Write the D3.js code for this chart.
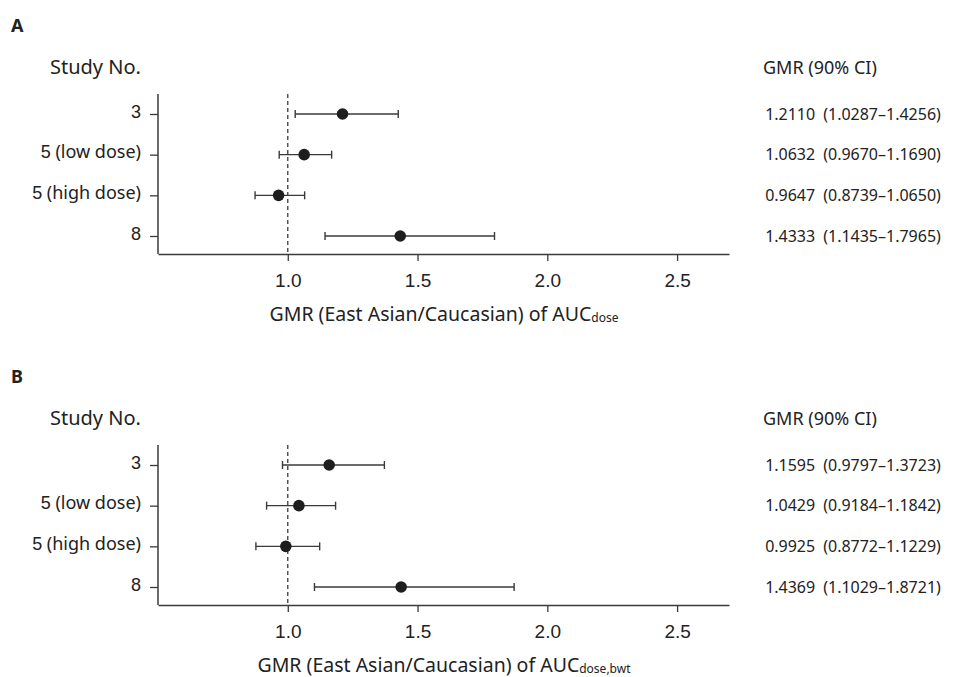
<!DOCTYPE html>
<html><head><meta charset="utf-8">
<script src="https://cdn.jsdelivr.net/npm/d3@7"></script>
<style>body{margin:0;background:#fff}svg{display:block}</style>
</head><body>
<svg id="chart" width="956" height="677"></svg>
<script>
// ---- data ----
const studyNums = ["3", "5", "5", "8"];
const studyNotes = ["", " (low dose)", " (high dose)", ""];
const categories = ["3", "5 (low dose)", "5 (high dose)", "8"];
const xTicks = [1.0, 1.5, 2.0, 2.5];
const refLine = 1.0;

const gmrA = [1.2110, 1.0632, 0.9647, 1.4333];
const lowA = [1.0287, 0.9670, 0.8739, 1.1435];
const highA = [1.4256, 1.1690, 1.0650, 1.7965];

const gmrB = [1.1595, 1.0429, 0.9925, 1.4369];
const lowB = [0.9797, 0.9184, 0.8772, 1.1029];
const highB = [1.3723, 1.1842, 1.1229, 1.8721];

const panelLetters = ["A", "B"];
const axisSubs = ["dose", "dose,bwt"];

const svg = d3.select("#chart");
const sansFont = "'Noto Sans', 'Open Sans', sans-serif";
const numFont = "'Liberation Sans', Arial, sans-serif";
const ink = "#222";
const lineCol = "#3a3a3a";

const x = d3.scaleLinear().domain([0.5, 2.7]).range([158, 729]);

function drawPanel(offY, letter, gmr, low, high, sub) {
  const g = svg.append("g").attr("transform", `translate(0,${offY})`);
  const y = d3.scalePoint().domain(categories).range([114, 236]);
  const axTop = 94, axBottom = 254;

  g.append("text").attr("x", 11).attr("y", 32).text(letter)
    .attr("font-family", sansFont).attr("font-weight", "bold").attr("font-size", 18).attr("fill", ink);
  g.append("text").attr("x", 50).attr("y", 74).text("Study No.")
    .attr("font-family", sansFont).attr("font-size", 20).attr("fill", ink);
  g.append("text").attr("x", 763).attr("y", 74).text("GMR (90% CI)")
    .attr("font-family", sansFont).attr("font-size", 18).attr("fill", ink);

  // reference dashed line
  g.append("line").attr("x1", x(refLine)).attr("x2", x(refLine))
    .attr("y1", axTop).attr("y2", axBottom)
    .attr("stroke", lineCol).attr("stroke-width", 1.3).attr("stroke-dasharray", "4,3");

  // x axis
  const xa = g.append("g").attr("transform", `translate(0,${axBottom})`)
    .call(d3.axisBottom(x).tickValues(xTicks).tickFormat(d3.format(".1f")).tickSize(7).tickSizeOuter(0).tickPadding(13));
  xa.select(".domain").attr("stroke", lineCol).attr("stroke-width", 1.5);
  xa.selectAll(".tick line").attr("stroke", lineCol).attr("stroke-width", 1.3);
  xa.selectAll(".tick text").attr("font-family", numFont).attr("font-size", 19).attr("fill", ink);

  // y axis
  const ya = g.append("g").attr("transform", `translate(${x.range()[0]},0)`)
    .call(d3.axisLeft(y).tickSize(8).tickSizeOuter(0).tickPadding(9));
  ya.select(".domain").attr("d", `M0,${axTop}V${axBottom}`).attr("stroke", lineCol).attr("stroke-width", 1.5);
  ya.selectAll(".tick line").attr("stroke", lineCol).attr("stroke-width", 1.3);
  ya.selectAll(".tick text").each(function(d, i) {
    const t = d3.select(this).text(null).attr("fill", ink);
    t.append("tspan").attr("font-family", numFont).attr("font-size", 18).text(studyNums[i]);
    if (studyNotes[i]) t.append("tspan").attr("font-family", sansFont).attr("font-size", 18).text(studyNotes[i]);
  });

  // axis title
  const at = g.append("text").attr("x", 444).attr("y", 321)
    .attr("text-anchor", "middle").attr("font-family", sansFont).attr("font-size", 19.5).attr("fill", ink);
  at.append("tspan").text("GMR (East Asian/Caucasian) of AUC");
  at.append("tspan").attr("font-size", 12).attr("dy", 0.5).text(sub);

  // whiskers
  const cap = 4;
  const rows = g.append("g").selectAll("g").data(categories).join("g");
  rows.append("line").attr("x1", (d, i) => x(low[i])).attr("x2", (d, i) => x(high[i]))
    .attr("y1", d => y(d)).attr("y2", d => y(d)).attr("stroke", lineCol).attr("stroke-width", 1.4);
  rows.append("line").attr("x1", (d, i) => x(low[i])).attr("x2", (d, i) => x(low[i]))
    .attr("y1", d => y(d) - cap).attr("y2", d => y(d) + cap).attr("stroke", lineCol).attr("stroke-width", 1.4);
  rows.append("line").attr("x1", (d, i) => x(high[i])).attr("x2", (d, i) => x(high[i]))
    .attr("y1", d => y(d) - cap).attr("y2", d => y(d) + cap).attr("stroke", lineCol).attr("stroke-width", 1.4);
  rows.append("circle").attr("cx", (d, i) => x(gmr[i])).attr("cy", d => y(d)).attr("r", 5.8).attr("fill", "#1e1e1e");

  // value text
  const fmt = d3.format(".4f");
  rows.append("text").attr("x", 853).attr("y", d => y(d)).attr("dy", "0.35em")
    .attr("text-anchor", "middle").attr("font-family", sansFont).attr("font-size", 16).attr("fill", ink)
    .text((d, i) => `${fmt(gmr[i])}\u2002(${fmt(low[i])}\u2013${fmt(high[i])})`);
}

drawPanel(0, panelLetters[0], gmrA, lowA, highA, axisSubs[0]);
drawPanel(351, panelLetters[1], gmrB, lowB, highB, axisSubs[1]);
</script>
</body></html>
